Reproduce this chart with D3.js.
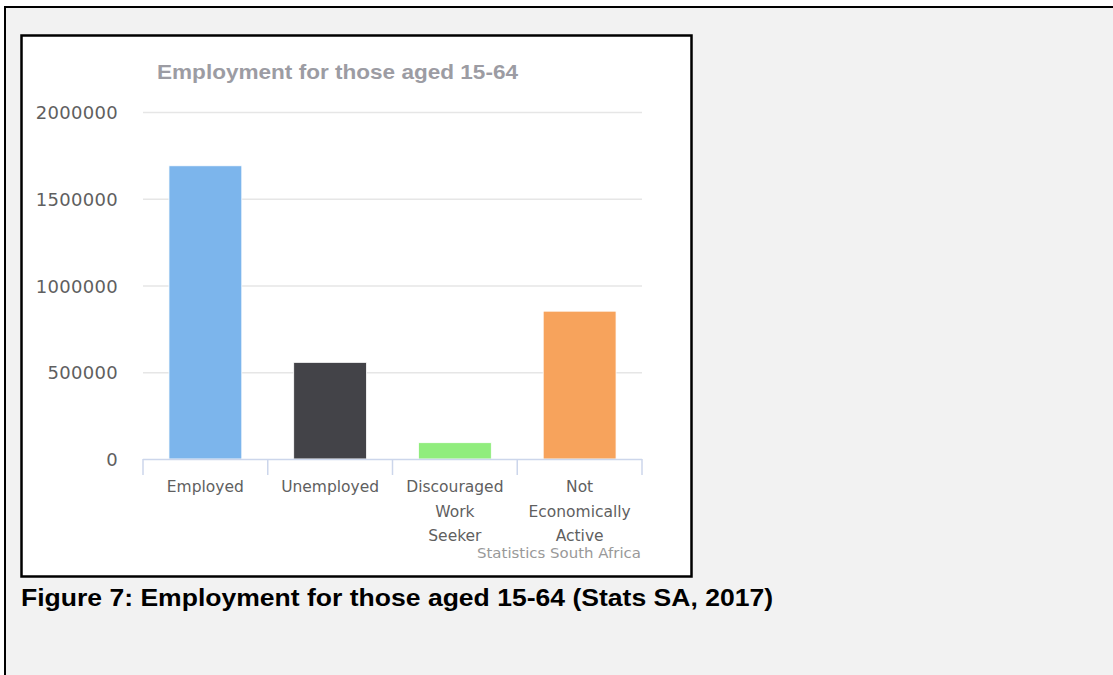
<!DOCTYPE html>
<html>
<head>
<meta charset="utf-8">
<script src="https://cdn.jsdelivr.net/npm/d3@7"></script>
<style>
  html, body { margin: 0; padding: 0; background: #fff; }
  svg { display: block; }
</style>
</head>
<body>
<div id="chart"></div>
<script>
(function(d3) {

  // Data.
  var categories = [
    ['Employed'],
    ['Unemployed'],
    ['Discouraged', 'Work', 'Seeker'],
    ['Not', 'Economically', 'Active']
  ];
  var values = [1690000, 557000, 94000, 852000];
  var colors = ['#7cb5ec', '#434348', '#90ed7d', '#f7a35c'];
  var yTicks = [0, 500000, 1000000, 1500000, 2000000];

  var width = 1113, height = 675;

  var svg = d3.select('#chart').append('svg')
    .attr('width', width)
    .attr('height', height);

  // Page background and borders.
  svg.append('rect')
    .attr('x', 5).attr('y', 7)
    .attr('width', width + 10).attr('height', height + 10)
    .attr('fill', '#f2f2f2')
    .attr('stroke', '#000')
    .attr('stroke-width', 2);

  svg.append('rect')
    .attr('x', 21.5).attr('y', 35.5)
    .attr('width', 670).attr('height', 541)
    .attr('fill', '#fff')
    .attr('stroke', '#000')
    .attr('stroke-width', 2.5);

  // Scales.
  var x = d3.scaleBand()
    .domain(d3.range(categories.length))
    .range([143, 642]);

  var xBar = d3.scaleBand()
    .domain(d3.range(categories.length))
    .range([143, 642])
    .paddingInner(0.416)
    .paddingOuter(0.208);

  var y = d3.scaleLinear()
    .domain([0, 2000000])
    .range([459, 112]);

  // Grid lines.
  svg.append('g')
    .selectAll('line')
    .data(yTicks.filter(function(d) { return d > 0; }))
    .join('line')
    .attr('x1', 143).attr('x2', 642)
    .attr('y1', function(d) { return y(d) + 0.5; })
    .attr('y2', function(d) { return y(d) + 0.5; })
    .attr('stroke', '#e6e6e6')
    .attr('stroke-width', 1.5);

  // Y labels.
  svg.append('g')
    .selectAll('text')
    .data(yTicks)
    .join('text')
    .attr('x', 118)
    .attr('y', function(d) { return y(d) + 7; })
    .attr('text-anchor', 'end')
    .attr('font-family', 'DejaVu Sans, Verdana, sans-serif')
    .attr('font-size', '18px')
    .attr('letter-spacing', '0.3px')
    .attr('fill', '#5f5f5f')
    .text(function(d) { return d; });

  // Bars.
  svg.append('g')
    .selectAll('rect')
    .data(values)
    .join('rect')
    .attr('x', function(d, i) { return xBar(i); })
    .attr('y', function(d) { return y(d); })
    .attr('width', xBar.bandwidth())
    .attr('height', function(d) { return y(0) - y(d); })
    .attr('fill', function(d, i) { return colors[i]; })
    .attr('stroke', '#fff')
    .attr('stroke-width', 0.8);

  // X axis.
  var xAxis = svg.append('g');
  xAxis.append('line')
    .attr('x1', 143).attr('x2', 642)
    .attr('y1', y(0) + 0.5).attr('y2', y(0) + 0.5)
    .attr('stroke', '#ccd6eb')
    .attr('stroke-width', 1.5);

  xAxis.selectAll('line.tick')
    .data(d3.range(categories.length + 1))
    .join('line')
    .attr('class', 'tick')
    .attr('x1', function(i) { return 143 + i * x.step(); })
    .attr('x2', function(i) { return 143 + i * x.step(); })
    .attr('y1', y(0))
    .attr('y2', y(0) + 16)
    .attr('stroke', '#ccd6eb')
    .attr('stroke-width', 1.5);

  var labels = xAxis.selectAll('text')
    .data(categories)
    .join('text')
    .attr('text-anchor', 'middle')
    .attr('font-family', 'DejaVu Sans, Verdana, sans-serif')
    .attr('font-size', '15.5px')
    .attr('fill', '#5f5f5f');

  labels.selectAll('tspan')
    .data(function(d, i) { return d.map(function(t) { return { t: t, i: i }; }); })
    .join('tspan')
    .attr('x', function(d) { return x(d.i) + x.bandwidth() / 2; })
    .attr('y', function(d, j) { return 492 + j * 24.5; })
    .text(function(d) { return d.t; });

  // Title.
  svg.append('text')
    .attr('x', 337.5)
    .attr('y', 79)
    .attr('text-anchor', 'middle')
    .attr('font-family', 'Liberation Sans, Arial, sans-serif')
    .attr('font-weight', 'bold')
    .attr('font-size', '21px')
    .attr('textLength', 361)
    .attr('lengthAdjust', 'spacingAndGlyphs')
    .attr('fill', '#9c9ca3')
    .text('Employment for those aged 15-64');

  // Credits.
  svg.append('text')
    .attr('x', 641)
    .attr('y', 558)
    .attr('text-anchor', 'end')
    .attr('font-family', 'DejaVu Sans, sans-serif')
    .attr('font-size', '13.5px')
    .attr('textLength', 164)
    .attr('lengthAdjust', 'spacingAndGlyphs')
    .attr('fill', '#999')
    .text('Statistics South Africa');

  // Caption.
  svg.append('text')
    .attr('x', 21)
    .attr('y', 606)
    .attr('font-family', 'Liberation Sans, Arial, sans-serif')
    .attr('font-weight', 'bold')
    .attr('font-size', '23.5px')
    .attr('textLength', 752)
    .attr('lengthAdjust', 'spacingAndGlyphs')
    .attr('fill', '#000')
    .text('Figure 7: Employment for those aged 15-64 (Stats SA, 2017)');

})(d3);
</script>
</body>
</html>
